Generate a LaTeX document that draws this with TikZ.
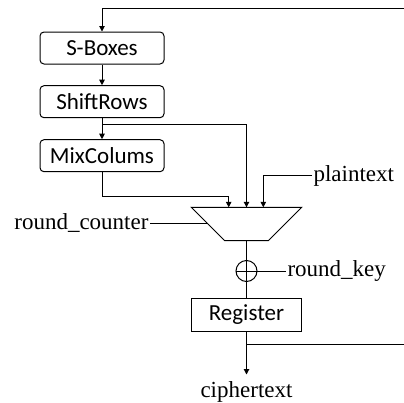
\documentclass[tikz,border=0pt]{standalone}
\usepackage{fontspec}
\setmainfont{Liberation Serif}
\newfontfamily\boxfont{Carlito}
\usetikzlibrary{arrows.meta}
\begin{document}
\begin{tikzpicture}[x=1pt,y=-1pt,
  line width=1pt,
  arr/.style={-{Triangle[length=5.5pt,width=5.5pt]}},
  rbox/.style={draw,rounded corners=4pt,minimum width=124pt,minimum height=32pt,inner sep=0pt,font=\boxfont\fontsize{23}{27}\selectfont},
  sbox/.style={draw,minimum width=110.4pt,minimum height=33.4pt,inner sep=0pt,font=\boxfont\fontsize{23}{27}\selectfont},
  lab/.style={inner sep=1pt,font=\fontsize{23}{27}\selectfont},
  xorc/.style={draw,circle,minimum size=21pt,inner sep=0pt}]
\useasboundingbox (0,0) rectangle (404,402);
\node[rbox] (sb) at (102,48) {S-Boxes};
\node[rbox] (sr) at (102,101.7) {ShiftRows};
\node[rbox] (mc) at (102,155.7) {MixColums};
% multiplexer (trapezium)
\coordinate (mxtl) at (191.3,207.3);
\coordinate (mxtr) at (301.7,207.3);
\coordinate (mxbr) at (268.3,240.7);
\coordinate (mxbl) at (224.7,240.7);
\coordinate (mxn) at (246.5,207.3);
\coordinate (mxs) at (246.5,240.7);
\draw (mxtl) -- (mxtr) -- (mxbr) -- (mxbl) -- cycle;
\node[xorc] (xo) at (246.5,271) {};
\node[sbox] (rg) at (246.5,315) {Register};
\node[lab,anchor=west] (pt) at (312,175.7) {plaintext};
\node[lab,anchor=east] (rc) at (150,223.3) {round\_counter};
\node[lab,anchor=west] (rk) at (286,271) {round\_key};
\node[lab,anchor=base] (ct) at (246.5,397) {ciphertext};
\coordinate (fbt) at (404,8);
\coordinate (fbb) at (404,344);
\coordinate (b1) at (102,124);
\coordinate (b2) at (246.5,344);
\coordinate (k1) at (228.7,196.7);
\coordinate (m1) at (228.7,207.3);
\coordinate (m3) at (263.3,207.3);
\coordinate (rce) at (207,223.3);
\coordinate (cte) at (246.5,374.5);
\draw[arr] (fbt) -| (sb.north);
\draw[arr] (sb) -- (sr);
\draw[arr] (sr) -- (mc);
\draw[arr] (b1) -| (mxn);
\draw[arr] (mc.south) |- (k1) -- (m1);
\draw[arr] (pt.west) -| (m3);
\draw (rc.east) -- (rce);
\draw (mxs) -- (rg.north);
\draw (xo.east) -- (rk.west);
\draw (xo.west) -- (xo.east);
\draw[arr] (rg.south) -- (cte);
\draw (b2) -- (fbb);
\end{tikzpicture}
\end{document}
